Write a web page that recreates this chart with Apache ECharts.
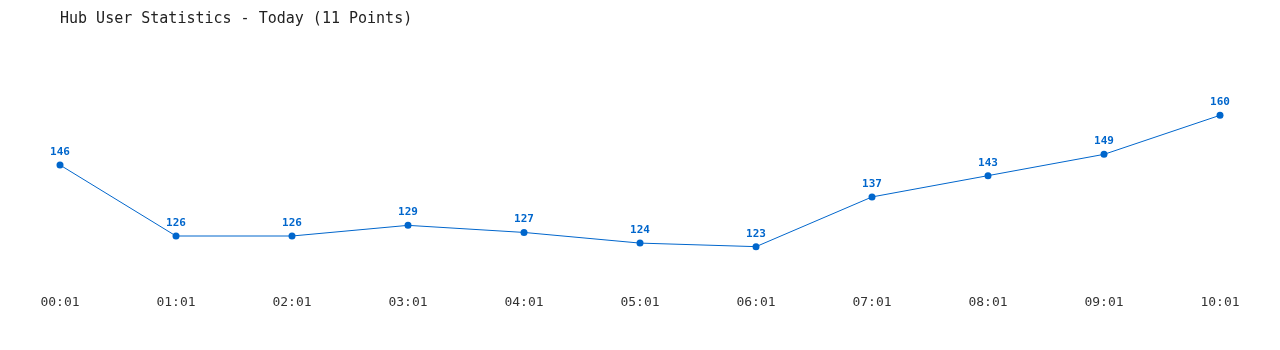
<!DOCTYPE html>
<html><head><meta charset="utf-8">
<script src="https://cdn.jsdelivr.net/npm/echarts@6/dist/echarts.min.js"></script>
<style>html,body{margin:0;padding:0;background:#fff}#c{width:1280px;height:350px}</style>
</head><body><div id="c"></div>
<script>
const titleText = "Hub User Statistics - Today (11 Points)";
const categories = ["00:01","01:01","02:01","03:01","04:01","05:01","06:01","07:01","08:01","09:01","10:01"];
const users = [146,126,126,129,127,124,123,137,143,149,160];
const font = "'DejaVu Sans Mono', 'Liberation Mono', monospace";
const chart = echarts.init(document.getElementById('c'), null, {renderer:'canvas'});
chart.setOption({
  animation:false,
  title:{text:titleText,left:55,top:7,textStyle:{fontFamily:font,fontSize:15,fontWeight:'normal',color:'#222'}},
  grid:{left:60,right:60,top:79.8,bottom:57.2,containLabel:false},
  xAxis:{type:'category',data:categories,boundaryGap:false,
    axisLine:{show:false},axisTick:{show:false},splitLine:{show:false},
    axisLabel:{margin:3,fontFamily:font,fontSize:13,color:'#333'}},
  yAxis:{type:'value',min:110,max:170,show:false,splitLine:{show:false}},
  series:[{type:'line',data:users,symbol:'circle',symbolSize:7,
    lineStyle:{width:1,color:'#0066cc'},itemStyle:{color:'#0066cc'},
    label:{show:true,position:'top',distance:4,fontFamily:font,fontSize:11,fontWeight:'bold',color:'#0066cc'}}]
});
</script></body></html>
